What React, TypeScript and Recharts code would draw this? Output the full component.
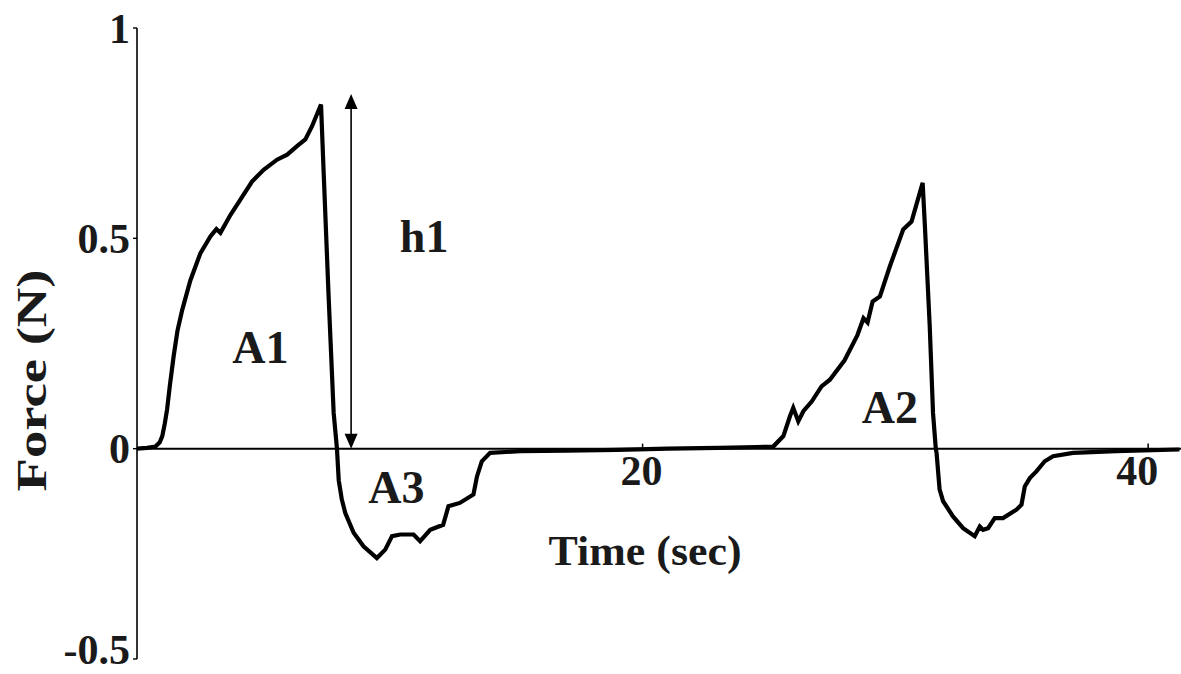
import { Line, LineChart, ReferenceDot, ReferenceLine, XAxis, YAxis } from "recharts";

const TIME = [
  0, 0.4, 0.73, 0.9, 1.0, 1.1, 1.19, 1.3, 1.45, 1.6, 1.79, 2.11, 2.51, 2.91, 3.14, 3.3, 3.7,
  4.09, 4.55, 5.01, 5.54, 5.94, 6.33, 6.66, 6.92, 7.28, 7.38, 7.58, 7.78, 7.91, 7.98, 8.1,
  8.24, 8.57, 8.96, 9.49, 9.82, 10.09, 10.42, 10.94, 11.2, 11.6, 12.11, 12.32, 12.77, 13.31,
  13.45, 13.64, 13.97, 15.16, 17.0, 19.0, 21.0, 23.0, 24.5, 25.17, 25.57, 25.83, 25.96, 26.16,
  26.36, 26.69, 27.08, 27.41, 27.99, 28.5, 28.74, 28.9, 29.1, 29.39, 29.78, 30.31, 30.64,
  31.08, 31.17, 31.36, 31.49, 31.6, 31.63, 31.75, 31.89, 32.28, 32.68, 33.14, 33.34, 33.47,
  33.67, 33.93, 34.26, 34.79, 34.99, 35.12, 35.32, 35.58, 35.91, 36.24, 37.03, 38.74, 41.24,
];
const FORCE = [
  0, 0.002, 0.005, 0.015, 0.03, 0.06, 0.093, 0.15, 0.22, 0.28, 0.33, 0.4, 0.465, 0.505, 0.522,
  0.513, 0.556, 0.592, 0.635, 0.663, 0.687, 0.699, 0.719, 0.735, 0.766, 0.818, 0.663, 0.362,
  0.085, 0, -0.075, -0.12, -0.153, -0.2, -0.232, -0.26, -0.24, -0.208, -0.204, -0.204, -0.22,
  -0.193, -0.181, -0.137, -0.129, -0.109, -0.066, -0.03, -0.01, -0.006, -0.005, -0.003, 0,
  0.002, 0.004, 0.005, 0.03, 0.077, 0.097, 0.065, 0.089, 0.112, 0.148, 0.164, 0.21, 0.27, 0.31,
  0.3, 0.35, 0.362, 0.433, 0.521, 0.54, 0.632, 0.528, 0.291, 0.085, 0, -0.01, -0.097, -0.125,
  -0.161, -0.189, -0.208, -0.185, -0.193, -0.189, -0.165, -0.165, -0.145, -0.133, -0.09, -0.07,
  -0.054, -0.03, -0.018, -0.01, -0.006, -0.002,
];

const Y_TICKS = [-0.5, 0, 0.5, 1];
const X_TICKS = [20, 40];

// text annotations placed in data coordinates
const NOTE_TEXT = ["h1", "A1", "A3", "A2"];
const NOTE_T = [11.36, 4.88, 10.26, 29.78];
const NOTE_F = [0.505, 0.242, -0.09, 0.1];

const XLABEL_T = 20.1;
const XLABEL_F = -0.24;

// h1 double arrow
const H1_T = 8.47;
const H1_RANGE = [0, 0.843];

const data = TIME.map((t, i) => ({ t, force: FORCE[i] }));

const FONT = "'Liberation Serif', 'DejaVu Serif', 'Times New Roman', serif";
const INK = "#1a1a1a";

const DoubleArrow = (props: any) => {
  const { x1, y1, x2, y2 } = props;
  const top = Math.min(y1, y2);
  const bottom = Math.max(y1, y2);
  const x = x1;
  return (
    <g>
      <line x1={x} y1={top + 10} x2={x2} y2={bottom - 10} stroke="#000" strokeWidth={1.6} />
      <polygon points={`${x},${top} ${x - 6.5},${top + 15} ${x + 6.5},${top + 15}`} fill="#000" />
      <polygon
        points={`${x},${bottom} ${x - 6.5},${bottom - 15} ${x + 6.5},${bottom - 15}`}
        fill="#000"
      />
    </g>
  );
};

const YTick = (props: any) => {
  const { x, y, payload } = props;
  // the lowest label sits at the frame edge; nudge it up so it stays inside
  const lift = payload.value === Y_TICKS[0] ? -10 : 0;
  return (
    <text
      x={x}
      y={y + lift}
      dy="0.35em"
      textAnchor="end"
      fontFamily={FONT}
      fontWeight={700}
      fontSize={42}
      fill={INK}
    >
      {payload.value}
    </text>
  );
};

const noteLabel = (text: string, size: number, len?: number) => (props: any) => {
  const { viewBox } = props;
  return (
    <text
      x={viewBox.x}
      y={viewBox.y}
      dy="0.35em"
      textAnchor="middle"
      fontFamily={FONT}
      fontWeight={700}
      fontSize={size}
      fill={INK}
      textLength={len}
      lengthAdjust={len ? "spacingAndGlyphs" : undefined}
    >
      {text}
    </text>
  );
};

const xTickLabel = (value: number) => (props: any) => {
  const { viewBox } = props;
  const shift = value === 40 ? -11 : -1;
  return (
    <text
      x={viewBox.x + shift}
      y={viewBox.y + viewBox.height + 36}
      textAnchor="middle"
      fontFamily={FONT}
      fontWeight={700}
      fontSize={42}
      fill={INK}
    >
      {value}
    </text>
  );
};

const forceLabel = (props: any) => {
  const { viewBox } = props;
  const cx = viewBox.x + 31;
  const cy = viewBox.y + viewBox.height / 2 + 37;
  return (
    <text
      x={cx}
      y={cy}
      dy="0.35em"
      transform={`rotate(-90, ${cx}, ${cy})`}
      textAnchor="middle"
      fontFamily={FONT}
      fontWeight={700}
      fontSize={42}
      fill={INK}
      textLength={222}
      lengthAdjust="spacingAndGlyphs"
    >
      Force (N)
    </text>
  );
};

export default function App() {
  return (
    <div style={{ position: "absolute", left: 0, top: 0, background: "#fff" }}>
      <LineChart
        width={1181}
        height={674}
        data={data}
        margin={{ top: 28, right: 0, bottom: 15, left: 0 }}
      >
        <XAxis dataKey="t" type="number" domain={[0, 41.3]} hide allowDataOverflow />
        <YAxis
          type="number"
          domain={[-0.5, 1]}
          ticks={Y_TICKS}
          interval={0}
          width={137}
          axisLine={{ stroke: "#000", strokeWidth: 1.6 }}
          tickLine={{ stroke: "#000", strokeWidth: 1.4 }}
          tickSize={4}
          tickMargin={3}
          tick={<YTick />}
          label={{ content: forceLabel }}
        />
        <ReferenceLine y={0} stroke="#000" strokeWidth={2} />
        {X_TICKS.map((v) => (
          <ReferenceLine
            key={v}
            segment={[
              { x: v, y: 0 },
              { x: v, y: 0.012 },
            ]}
            stroke="#000"
            strokeWidth={1.5}
            label={{ content: xTickLabel(v) }}
          />
        ))}
        <ReferenceLine
          segment={[
            { x: H1_T, y: H1_RANGE[0] },
            { x: H1_T, y: H1_RANGE[1] },
          ]}
          shape={DoubleArrow}
        />
        {NOTE_TEXT.map((txt, i) => (
          <ReferenceDot
            key={txt}
            x={NOTE_T[i]}
            y={NOTE_F[i]}
            r={0}
            fill="none"
            stroke="none"
            label={{ content: noteLabel(txt, 46) }}
          />
        ))}
        <ReferenceDot
          x={XLABEL_T}
          y={XLABEL_F}
          r={0}
          fill="none"
          stroke="none"
          label={{ content: noteLabel("Time (sec)", 43, 193) }}
        />
        <Line
          type="linear"
          dataKey="force"
          stroke="#000"
          strokeWidth={4.2}
          dot={false}
          isAnimationActive={false}
        />
      </LineChart>
    </div>
  );
}
